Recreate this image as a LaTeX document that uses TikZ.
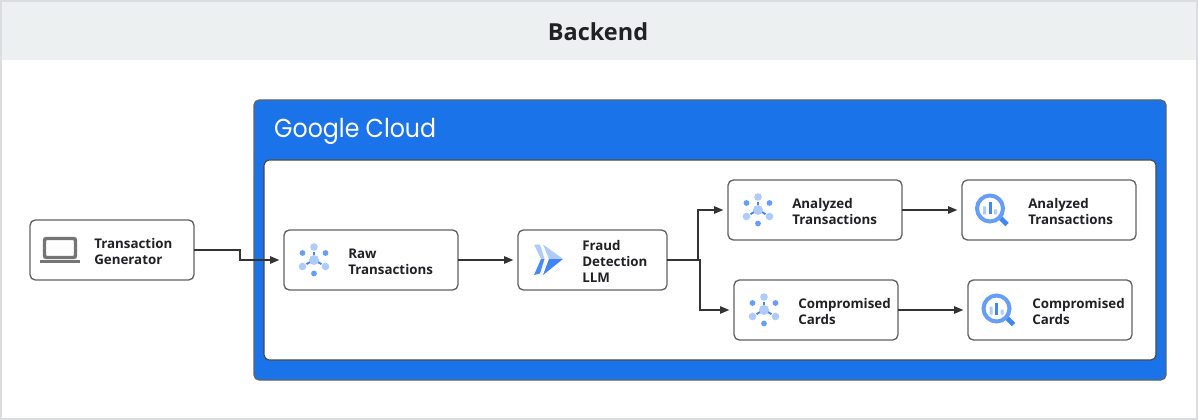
\documentclass[tikz,border=0pt]{standalone}
\usepackage{fontspec}
\setmainfont{Open Sans}
\newfontfamily\logofont{Poppins}
\usetikzlibrary{arrows.meta}
\definecolor{framegrey}{HTML}{DADCE0}
\definecolor{headgrey}{HTML}{EDF0F0}
\definecolor{cloudblue}{HTML}{1A73E8}
\definecolor{edgegrey}{HTML}{5F6368}
\definecolor{inkdark}{HTML}{202124}
\definecolor{linedark}{HTML}{333333}
\definecolor{iconlight}{HTML}{AECBFA}
\definecolor{iconmid}{HTML}{669DF6}
\definecolor{iconblue}{HTML}{4285F4}
\definecolor{icongrey}{HTML}{757575}
\tikzset{
  cardbox/.style={draw=edgegrey, fill=white, line width=1pt, rounded corners=4pt, minimum height=45pt, inner sep=0pt, outer sep=0pt},
  cardtext/.style={anchor=west, align=left, inner sep=0pt, text=inkdark, font=\fontsize{10}{12}\selectfont\bfseries},
  flow/.style={draw=linedark, line width=1pt, -{Stealth[length=7pt,width=5.6pt,inset=0pt]}, shorten >=3.5pt},
  pics/hubicon/.style={code={
    \draw[iconblue, line width=1.4pt] (0,-8) -- (0,-5) (-7.5,4.2) -- (-4,2) (7.5,4.2) -- (4,2);
    \fill[iconlight] (0,0) circle (5) (0,-13) circle (3.8) (-11.5,6.5) circle (3.8) (11.5,6.5) circle (3.8);
    \fill[iconmid] (-11.5,-7) circle (2.9) (11.5,-7) circle (2.9) (0,13.5) circle (2.9);
  }},
  pics/lensicon/.style={code={
    \draw[iconblue, line width=3.6pt] (10.5,9.5) -- (17,16);
    \draw[iconmid, line width=3pt, fill=white] (0,0) circle (13);
    \fill[iconlight] (-7,-2) rectangle (-4,6) (4,1) rectangle (7,6);
    \fill[iconblue] (-1.5,-6) rectangle (1.5,6);
  }},
  pics/agenticon/.style={code={
    \fill[iconlight] (-29,-15) -- (-23,-15) -- (-18.5,-0.5) -- (-22,-0.5) -- cycle;
    \fill[iconblue!80!iconmid] (-22,-0.5) -- (-18.5,-0.5) -- (-23,14) -- (-29,15.5) -- cycle;
    \fill[iconlight] (-20,-15) -- (0,-0.5) -- (-14,-0.5) -- cycle;
    \fill[iconblue] (-14,-0.5) -- (0,-0.5) -- (-20,15.5) -- cycle;
  }},
  pics/laptopicon/.style={code={
    \draw[icongrey, line width=2.6pt, fill=white, rounded corners=1.5pt] (-15.5,-11.5) rectangle (15.5,7.5);
    \fill[icongrey] (-20,9.5) rectangle (20,13);
  }}
}
\begin{document}
\begin{tikzpicture}[x=0.75pt,y=-0.75pt]
\useasboundingbox (0,0) rectangle (1198,420);
\node[draw=none, fill=headgrey, minimum width=898.5pt, minimum height=45pt, inner sep=0pt, outer sep=0pt] (header) at (599,30) {};
\draw[framegrey, line width=1.5pt] (1,1) rectangle (1197,419);
\node[font=\fontsize{17.6}{20}\selectfont\bfseries, text=inkdark, inner sep=0pt] (backend) at (598,32) {Backend};
\node[draw=edgegrey, fill=cloudblue, line width=1pt, rounded corners=4pt, minimum width=684pt, minimum height=210pt, inner sep=0pt, outer sep=0pt] (cloud) at (710,240) {};
\node[draw=edgegrey!70!black, fill=white, line width=.8pt, rounded corners=4pt, minimum width=669pt, minimum height=150pt, inner sep=0pt, outer sep=0pt] (inner) at (710,260) {};
\node[anchor=west, inner sep=0pt, text=white, xscale=.91, font=\logofont\fontsize{19.5}{24}\selectfont] (logo) at (274,131) {Google Cloud};
\node[cardbox, minimum width=123pt] (generator) at (112,250) {};
\node[cardbox, minimum width=130.5pt] (raw) at (371,260) {};
\node[cardbox, minimum width=111.75pt] (fraud) at (592.5,260) {};
\node[cardbox, minimum width=130.5pt] (analyzed) at (815,210) {};
\node[cardbox, minimum width=123pt] (compromised) at (816,310) {};
\node[cardbox, minimum width=130.5pt] (analyzedbq) at (1049,210) {};
\node[cardbox, minimum width=123pt] (compromisedbq) at (1050,310) {};
\node[cardtext] (generatortext) at (94,251.5) {Transaction\\Generator};
\node[cardtext] (rawtext) at (348,261.5) {Raw\\Transactions};
\node[cardtext] (fraudtext) at (582,261.5) {Fraud\\Detection\\LLM};
\node[cardtext] (analyzedtext) at (792,211.5) {Analyzed\\Transactions};
\node[cardtext] (compromisedtext) at (798,311.5) {Compromised\\Cards};
\node[cardtext] (analyzedbqtext) at (1028,211.5) {Analyzed\\Transactions};
\node[cardtext] (compromisedbqtext) at (1032,311.5) {Compromised\\Cards};
\pic at (60,250) {laptopicon};
\pic at (314,260) {hubicon};
\pic at (563,259.5) {agenticon};
\pic at (758,210) {hubicon};
\pic at (764,310) {hubicon};
\pic at (990,208.5) {lensicon};
\pic at (996.5,308.5) {lensicon};
\draw[flow] (generator.east) -- ++(46,0) |- (raw.west);
\draw[flow] (raw.east) -- (fraud.west);
\draw[flow] (fraud.east) -- ++(31,0) |- (analyzed.west);
\draw[flow] (fraud.east) -- ++(33,0) |- (compromised.west);
\draw[flow] (analyzed.east) -- (analyzedbq.west);
\draw[flow] (compromised.east) -- (compromisedbq.west);
\end{tikzpicture}
\end{document}
